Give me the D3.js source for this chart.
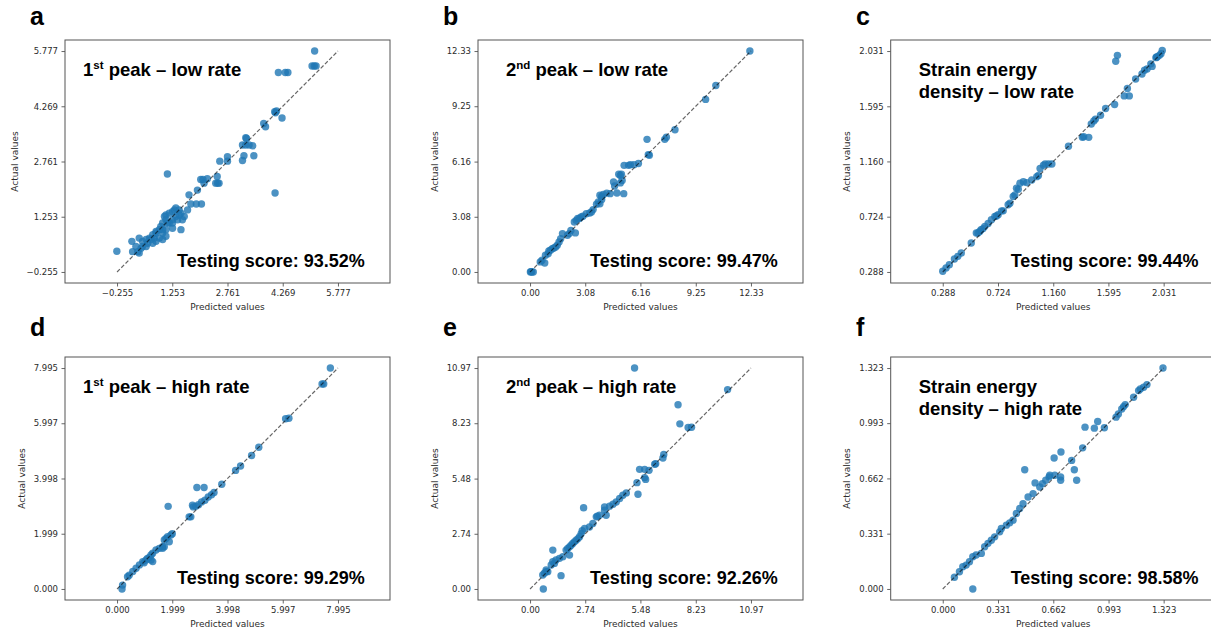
<!DOCTYPE html>
<html>
<head>
<meta charset="utf-8">
<script src="https://cdn.jsdelivr.net/npm/d3@7"></script>
<style>
  body { margin: 0; background: #fff; }
  svg { display: block; }
</style>
</head>
<body>
<svg id="fig" width="1211" height="632"></svg>
<script>
// ---- data: [predicted, actual] pairs per panel ----
const peak1Low = [
  [5.14,5.78],[5.07,5.37],[5.13,5.37],[5.18,5.37],
  [4.15,5.19],[4.34,5.19],[4.41,5.19],
  [4.05,4.12],[4.10,4.14],[4.07,4.09],[4.25,3.95],
  [3.75,3.80],[3.80,3.71],[3.26,3.41],[3.28,3.39],
  [3.17,3.21],[3.26,3.21],[3.35,3.21],[3.45,3.19],
  [3.21,2.92],[3.48,2.92],[3.17,2.79],
  [2.76,2.89],[2.76,2.77],[2.55,2.77],
  [4.06,1.90],[1.12,2.42],
  [2.48,2.35],[2.53,2.17],[2.44,2.17],[2.49,2.17],
  [2.21,2.29],[2.03,2.27],[2.09,2.27],[2.12,2.17],
  [1.94,1.98],[1.71,1.85],[1.91,1.60],[2.05,1.60],
  [1.76,1.60],[1.67,1.44],[1.58,1.26],[1.49,1.35],[1.44,1.44],[1.31,1.44],
  [1.35,1.49],[1.26,1.39],[1.17,1.35],[1.08,1.30],[1.08,1.17],[1.26,1.17],
  [1.40,1.17],[1.53,1.17],[1.49,0.90],[1.26,0.94],[1.17,1.08],[0.99,1.08],
  [0.94,0.99],[0.90,0.90],[0.99,0.81],[0.81,0.85],[0.72,0.76],[0.76,0.67],
  [0.63,0.67],[0.54,0.63],[0.44,0.58],[0.35,0.67],[0.54,0.44],[0.40,0.39],
  [0.31,0.30],[0.35,0.26],[0.17,0.30],[0.15,0.58],[-0.26,0.31],[0.99,0.63],
  [0.81,0.58],[0.67,0.63],[1.08,0.90],[1.12,1.08],[1.04,1.26],[0.72,0.53],
  [0.58,0.53],[0.44,0.44],[0.26,0.44],[0.90,0.67],[0.81,0.81],[1.26,1.08],
  [1.35,1.26],[1.44,1.30],[0.99,0.90],[1.08,0.72]
];
const peak2Low = [
  [12.27,12.33],[10.37,10.41],[9.80,9.63],[8.09,7.94],[7.61,7.52],[7.52,7.40],
  [6.53,7.40],[6.60,6.55],[6.66,6.51],
  [6.05,6.05],[5.80,5.99],[5.60,5.99],[5.50,5.95],[5.25,5.95],
  [5.10,5.45],[5.04,5.39],[4.95,5.45],
  [4.66,5.02],[5.04,4.97],[5.14,5.11],[4.72,4.80],
  [5.23,4.37],[4.85,4.41],[4.47,4.37],[4.28,4.40],[4.09,4.33],[3.90,4.28],
  [4.00,4.22],[4.00,4.04],[3.90,3.81],[3.71,3.78],[3.81,3.91],[3.52,3.48],
  [3.43,3.35],[3.33,3.29],[3.14,3.25],[2.95,3.11],[2.85,3.07],[2.76,2.98],
  [2.57,2.88],[2.47,2.79],[2.53,2.18],[2.66,2.98],
  [2.28,2.32],[2.19,2.14],[2.09,2.05],[1.81,2.14],[1.71,1.86],[1.62,1.67],
  [1.52,1.49],[1.43,1.39],[1.33,1.34],[1.24,1.30],[1.14,1.21],[1.05,1.17],
  [1.01,1.02],[0.86,0.93],[0.67,0.65],[0.57,0.56],[0.82,0.50],
  [0.02,0.00],[0.10,0.00],[0.18,0.00],[0.05,0.02]
];
const energyLow = [
  [1.666,1.997],[1.653,1.950],
  [2.020,2.036],[2.010,2.010],[1.997,1.997],[1.980,1.984],[1.970,1.979],[1.975,1.985],
  [1.930,1.930],[1.940,1.910],[1.900,1.890],[1.880,1.880],[1.860,1.850],[1.810,1.810],
  [1.745,1.735],[1.720,1.677],[1.760,1.677],[1.644,1.609],[1.573,1.578],
  [1.533,1.525],[1.493,1.494],[1.480,1.480],[1.460,1.455],
  [1.440,1.350],[1.390,1.350],[1.400,1.355],[1.280,1.280],
  [1.149,1.140],[1.122,1.140],[1.096,1.140],[1.083,1.130],[1.056,1.105],
  [1.043,1.050],[1.030,1.040],
  [0.990,1.014],[0.950,0.993],[0.924,1.000],[0.897,0.988],
  [0.870,0.949],[0.884,0.940],[0.857,0.896],[0.844,0.883],[0.818,0.830],[0.804,0.818],
  [0.765,0.770],[0.752,0.770],[0.725,0.740],[0.712,0.730],[0.699,0.726],
  [0.672,0.700],[0.646,0.670],[0.620,0.648],[0.606,0.630],[0.590,0.621],
  [0.580,0.608],[0.566,0.595],[0.553,0.595],[0.513,0.516],
  [0.434,0.437],[0.407,0.411],[0.380,0.390],[0.340,0.345],[0.314,0.320],[0.288,0.293]
];
const peak1High = [
  [7.72,7.995],[7.42,7.42],[7.48,7.42],[6.10,6.16],[6.22,6.18],
  [5.13,5.13],[4.87,4.83],[4.47,4.45],[4.29,4.29],[3.79,3.79],
  [3.51,3.49],[3.42,3.41],[3.30,3.33],[3.18,3.21],[3.06,3.15],[2.95,3.05],
  [2.85,2.99],[2.89,3.67],[3.15,3.67],[1.85,2.99],
  [2.73,3.03],[2.76,2.97],[2.67,2.61],[2.61,2.61],
  [2.00,2.00],[1.95,1.95],[1.83,1.89],[1.77,1.83],[1.71,1.77],[1.89,1.71],
  [1.65,1.53],[1.53,1.47],[1.41,1.41],[1.29,1.29],[1.23,1.23],[1.17,1.14],
  [1.05,1.05],[0.93,0.99],[0.81,0.87],[0.69,0.75],[0.57,0.63],[0.44,0.50],[0.38,0.44],
  [1.29,0.99],[1.23,1.05],[1.65,1.47],[1.71,1.53],[1.10,1.10],[0.98,0.95],
  [0.20,0.14],[0.18,0.00]
];
const peak2High = [
  [5.19,10.97],[9.81,9.90],[7.35,9.15],[7.44,8.20],[7.85,8.02],[8.02,8.03],
  [6.64,6.68],[6.60,6.50],[6.24,6.22],[6.19,6.19],
  [5.44,5.94],[5.69,5.94],[5.91,5.89],[5.69,5.53],[5.74,5.44],
  [5.31,5.28],[5.36,4.70],
  [4.78,4.77],[4.61,4.65],[4.45,4.49],[4.28,4.32],
  [4.12,4.21],[3.95,4.11],[3.70,4.07],[3.70,3.91],[3.78,3.66],[2.66,4.03],
  [3.45,3.66],[3.34,3.61],[3.29,3.58],[3.12,3.25],[2.95,3.08],[2.71,3.00],
  [2.59,2.89],[2.54,2.75],[2.46,2.59],[2.38,2.50],[2.29,2.42],[2.20,2.34],
  [2.12,2.26],[2.04,2.17],[1.96,2.09],[1.87,2.01],[1.79,1.93],[1.96,1.68],
  [1.63,1.60],[1.46,1.52],[1.29,1.44],[1.13,1.35],[1.05,1.19],[1.13,1.93],
  [1.21,1.27],[0.88,0.86],[1.54,0.66],
  [0.80,0.86],[0.71,0.78],[0.63,0.69],[0.80,0.94],[0.66,0.00]
];
const energyHigh = [
  [1.319,1.323],[1.223,1.224],[1.203,1.208],[1.183,1.198],[1.173,1.188],
  [1.143,1.148],[1.093,1.104],[1.083,1.092],[1.072,1.078],[1.052,1.048],[1.038,1.029],
  [0.928,1.003],[0.908,0.963],[0.968,0.965],[0.852,0.969],[0.838,0.845],
  [0.708,0.820],[0.772,0.770],[0.788,0.714],
  [0.667,0.784],[0.706,0.671],[0.706,0.651],[0.671,0.681],
  [0.491,0.714],[0.553,0.635],[0.802,0.651],
  [0.641,0.681],[0.637,0.671],[0.617,0.651],[0.597,0.631],[0.581,0.611],
  [0.541,0.571],[0.511,0.551],[0.481,0.511],[0.461,0.482],[0.441,0.452],
  [0.421,0.412],[0.401,0.396],[0.381,0.382],[0.351,0.362],[0.341,0.342],
  [0.311,0.312],[0.291,0.292],[0.271,0.273],[0.251,0.253],
  [0.231,0.213],[0.200,0.203],[0.180,0.193],[0.160,0.163],[0.140,0.143],
  [0.120,0.133],[0.100,0.103],[0.070,0.070],[0.180,0.000]
];

// ---- tick values shown on both axes ----
const ticksPeak1Low  = [-0.255, 1.253, 2.761, 4.269, 5.777];
const ticksPeak2Low  = [0.00, 3.08, 6.16, 9.25, 12.33];
const ticksEnergyLow = [0.288, 0.724, 1.160, 1.595, 2.031];
const ticksPeak1High = [0.000, 1.999, 3.998, 5.997, 7.995];
const ticksPeak2High = [0.00, 2.74, 5.48, 8.23, 10.97];
const ticksEnergyHigh= [0.000, 0.331, 0.662, 0.993, 1.323];
const tickDecimals   = [3, 2, 3, 3, 2, 3];

// ---- labels ----
const panelLetters = ["a", "b", "c", "d", "e", "f"];
const panelTitles = [
  "1^{st} peak – low rate",
  "2^{nd} peak – low rate",
  "Strain energy\ndensity – low rate",
  "1^{st} peak – high rate",
  "2^{nd} peak – high rate",
  "Strain energy\ndensity – high rate"
];
const testingScores = [93.52, 99.47, 99.44, 99.29, 92.26, 98.58];

const panelData  = [peak1Low, peak2Low, energyLow, peak1High, peak2High, energyHigh];
const panelTicks = [ticksPeak1Low, ticksPeak2Low, ticksEnergyLow, ticksPeak1High, ticksPeak2High, ticksEnergyHigh];

// ---- layout ----
const colLeft = [65, 478, 890.7];
const rowTop = [40, 357];
const W = 325, H = 243;
const letterX = [30, 443, 856];
const letterY = [25, 336];
const titleDx = [18, 28, 28];
const scoreDx = [112, 112, 120];

const svg = d3.select("#fig");
const boldFont = "'Liberation Sans', Arial, Helvetica, sans-serif";
const tickFont = "'DejaVu Sans', sans-serif";

function drawPanel(i) {
  const col = i % 3, row = Math.floor(i / 3);
  const left = colLeft[col], top = rowTop[row];
  const ticks = panelTicks[i];
  const lo = ticks[0], hi = ticks[ticks.length - 1], span = hi - lo;

  // equal aspect: y gets 5% margins, x is widened to keep the same units per pixel
  const y = d3.scaleLinear().domain([lo - 0.05 * span, hi + 0.05 * span]).range([top + H, top]);
  const pxPerUnit = H / (1.1 * span);
  const mid = (lo + hi) / 2, halfX = (W / 2) / pxPerUnit;
  const x = d3.scaleLinear().domain([mid - halfX, mid + halfX]).range([left, left + W]);

  const g = svg.append("g");
  const fmt = d3.format("." + tickDecimals[i] + "f");

  // axes
  const xAxis = g.append("g").attr("transform", `translate(0,${top + H})`)
    .call(d3.axisBottom(x).tickValues(ticks).tickFormat(fmt).tickSize(3.5).tickPadding(3.5));
  const yAxis = g.append("g").attr("transform", `translate(${left},0)`)
    .call(d3.axisLeft(y).tickValues(ticks).tickFormat(fmt).tickSize(3.5).tickPadding(3.5));
  [xAxis, yAxis].forEach(a => {
    a.select(".domain").remove();
    a.selectAll("line").attr("stroke", "#555").attr("stroke-width", 0.9);
    a.selectAll("text").attr("font-family", tickFont).attr("font-size", 8.5).attr("fill", "#2b2b2b");
  });

  // points
  g.append("g").selectAll("circle").data(panelData[i]).join("circle")
    .attr("cx", d => x(d[0])).attr("cy", d => y(d[1])).attr("r", 3.7)
    .attr("fill", "#1f77b4").attr("fill-opacity", 0.8);

  // identity line
  g.append("line")
    .attr("x1", x(lo)).attr("y1", y(lo)).attr("x2", x(hi)).attr("y2", y(hi))
    .attr("stroke", "#000").attr("stroke-opacity", 0.6).attr("stroke-width", 1.2)
    .attr("stroke-dasharray", "4,2");

  // frame
  g.append("rect").attr("x", left).attr("y", top).attr("width", W).attr("height", H)
    .attr("fill", "none").attr("stroke", "#555").attr("stroke-width", 1);

  // axis labels
  g.append("text").attr("x", left + W / 2).attr("y", top + H + 26.5)
    .attr("text-anchor", "middle").attr("font-family", tickFont).attr("font-size", 9)
    .attr("fill", "#2b2b2b").text("Predicted values");
  let maxW = 0;
  yAxis.selectAll("text").each(function () { maxW = Math.max(maxW, this.getComputedTextLength()); });
  const yl = left - 7 - maxW - 9;
  g.append("text").attr("transform", `translate(${yl},${top + H / 2}) rotate(-90)`)
    .attr("text-anchor", "middle").attr("font-family", tickFont).attr("font-size", 9)
    .attr("fill", "#2b2b2b").text("Actual values");

  // title (with superscripts and line breaks)
  const title = g.append("text").attr("font-family", boldFont).attr("font-weight", "bold")
    .attr("font-size", 18.5).attr("fill", "#000");
  panelTitles[i].split("\n").forEach((line, li) => {
    const parts = line.split(/\^\{(.*?)\}/);
    parts.forEach((p, pi) => {
      if (p === "") return;
      const t = title.append("tspan").text(p);
      if (pi === 0) t.attr("x", left + titleDx[col]).attr("y", top + 35.5 + li * 22);
      if (pi % 2 === 1) t.attr("font-size", 11.5).attr("dy", -7);
      else if (pi > 0) t.attr("dy", 7);
    });
  });

  // score
  g.append("text").attr("x", left + scoreDx[col]).attr("y", top + 226.5)
    .attr("font-family", boldFont).attr("font-weight", "bold").attr("font-size", 18)
    .attr("fill", "#000").text(`Testing score: ${testingScores[i].toFixed(2)}%`);

  // panel letter
  svg.append("text").attr("x", letterX[col]).attr("y", letterY[row])
    .attr("font-family", boldFont).attr("font-weight", "bold").attr("font-size", 25)
    .attr("fill", "#000").text(panelLetters[i]);
}

for (let i = 0; i < 6; i++) drawPanel(i);
</script>
</body>
</html>
